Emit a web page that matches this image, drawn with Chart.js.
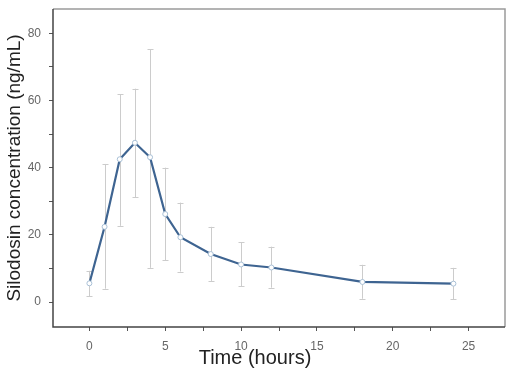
<!DOCTYPE html>
<html lang="en">
<head>
  <meta charset="UTF-8">
  <title>Silodosin concentration</title>
  <style>
    * { margin: 0; padding: 0; }
    body { background: #fff; }
    .chartBox { width: 515px; height: 376px; }
  </style>
</head>
<body>
  <div class="chartBox">
    <canvas id="myChart" width="515" height="376"></canvas>
  </div>
  <script src="https://cdn.jsdelivr.net/npm/chart.js@4"></script>
  <script>
    // time points (hours)
    const times = [0, 1, 2, 3, 4, 5, 6, 8, 10, 12, 18, 24];
    // mean concentration (ng/mL)
    const meanConc = [5.6, 22.4, 42.5, 47.4, 43.1, 26.2, 19.3, 14.3, 11.2, 10.3, 6.0, 5.5];
    // error bar ends
    const upperConc = [9.3, 41.1, 61.9, 63.5, 75.3, 40.0, 29.6, 22.4, 17.8, 16.5, 11.1, 10.2];
    const lowerConc = [1.8, 4.0, 22.7, 31.2, 10.2, 12.5, 9.1, 6.3, 4.8, 4.3, 1.0, 0.8];

    const xTitle = 'Time (hours)';
    const yTitle = 'Silodosin concentration (ng/mL)';

    const errorBars = {
      id: 'errorBars',
      beforeDatasetsDraw(chart) {
        const { ctx, scales: { x, y } } = chart;
        ctx.save();
        ctx.strokeStyle = '#cccccc';
        ctx.lineWidth = 1;
        times.forEach((t, i) => {
          const px = Math.round(x.getPixelForValue(t)) + 0.5;
          const top = y.getPixelForValue(upperConc[i]);
          const bot = y.getPixelForValue(lowerConc[i]);
          ctx.beginPath();
          ctx.moveTo(px, top);
          ctx.lineTo(px, bot);
          ctx.moveTo(px - 3, Math.round(top) + 0.5);
          ctx.lineTo(px + 3, Math.round(top) + 0.5);
          ctx.moveTo(px - 3, Math.round(bot) + 0.5);
          ctx.lineTo(px + 3, Math.round(bot) + 0.5);
          ctx.stroke();
        });
        ctx.restore();
      }
    };

    const frameAndTitles = {
      id: 'frameAndTitles',
      afterDraw(chart) {
        const { ctx, chartArea: a } = chart;
        ctx.save();
        ctx.lineWidth = 1.5;
        // top and right: light
        ctx.strokeStyle = '#9a9a9a';
        ctx.beginPath();
        ctx.moveTo(a.left, a.top);
        ctx.lineTo(a.right, a.top);
        ctx.lineTo(a.right, a.bottom);
        ctx.stroke();
        // left and bottom: dark
        ctx.strokeStyle = '#444444';
        ctx.beginPath();
        ctx.moveTo(a.left, a.top);
        ctx.lineTo(a.left, a.bottom);
        ctx.lineTo(a.right, a.bottom);
        ctx.stroke();

        ctx.fillStyle = '#222222';
        ctx.font = '20px "Liberation Sans", Arial, sans-serif';
        ctx.textAlign = 'center';
        ctx.textBaseline = 'middle';
        ctx.fillText(xTitle, 255, 358);

        ctx.font = '19px "Liberation Sans", Arial, sans-serif';
        ctx.translate(15, (a.top + a.bottom) / 2);
        ctx.rotate(-Math.PI / 2);
        ctx.fillText(yTitle, 0, 0);
        ctx.restore();
      }
    };

    const data = {
      labels: times,
      datasets: [{
        data: times.map((t, i) => ({ x: t, y: meanConc[i] })),
        borderColor: 'rgb(62, 100, 145)',
        borderWidth: 2.2,
        pointRadius: 2.5,
        pointBackgroundColor: '#ffffff',
        pointBorderColor: '#a9c0d6',
        pointBorderWidth: 1,
        tension: 0,
        fill: false
      }]
    };

    const tickFont = { family: '"Liberation Sans", Arial, sans-serif', size: 12, weight: '500' };

    const options = {
      responsive: false,
      animation: false,
      layout: { padding: { top: 9, right: 10, left: 0, bottom: 0 } },
      plugins: {
        legend: { display: false },
        tooltip: { enabled: false }
      },
      scales: {
        x: {
          type: 'linear',
          min: -2.4,
          max: 27.4,
          border: { display: false },
          grid: { drawOnChartArea: false, drawTicks: true, tickLength: 4, color: '#555555' },
          ticks: {
            stepSize: 2.5,
            includeBounds: false,
            autoSkip: false,
            maxRotation: 0,
            padding: 8,
            color: '#666666',
            font: tickFont,
            callback: (v) => (v % 5 === 0 ? v : '')
          },
          afterFit: (scale) => {
            scale.height = 49;
            scale.paddingLeft = 0;
            scale.paddingRight = 0;
          }
        },
        y: {
          type: 'linear',
          min: -7.4,
          max: 87.2,
          border: { display: false },
          grid: { drawOnChartArea: false, drawTicks: true, tickLength: 4, color: '#555555' },
          ticks: {
            stepSize: 10,
            includeBounds: false,
            autoSkip: false,
            padding: 8,
            color: '#666666',
            font: tickFont,
            callback: (v) => (v % 20 === 0 ? v : '')
          },
          afterFit: (scale) => {
            scale.width = 53;
            scale.paddingTop = 0;
            scale.paddingBottom = 0;
          }
        }
      }
    };

    const config = {
      type: 'line',
      data: data,
      options: options,
      plugins: [errorBars, frameAndTitles]
    };

    const ctx = document.getElementById('myChart').getContext('2d');
    const myChart = new Chart(ctx, config);
  </script>
</body>
</html>
